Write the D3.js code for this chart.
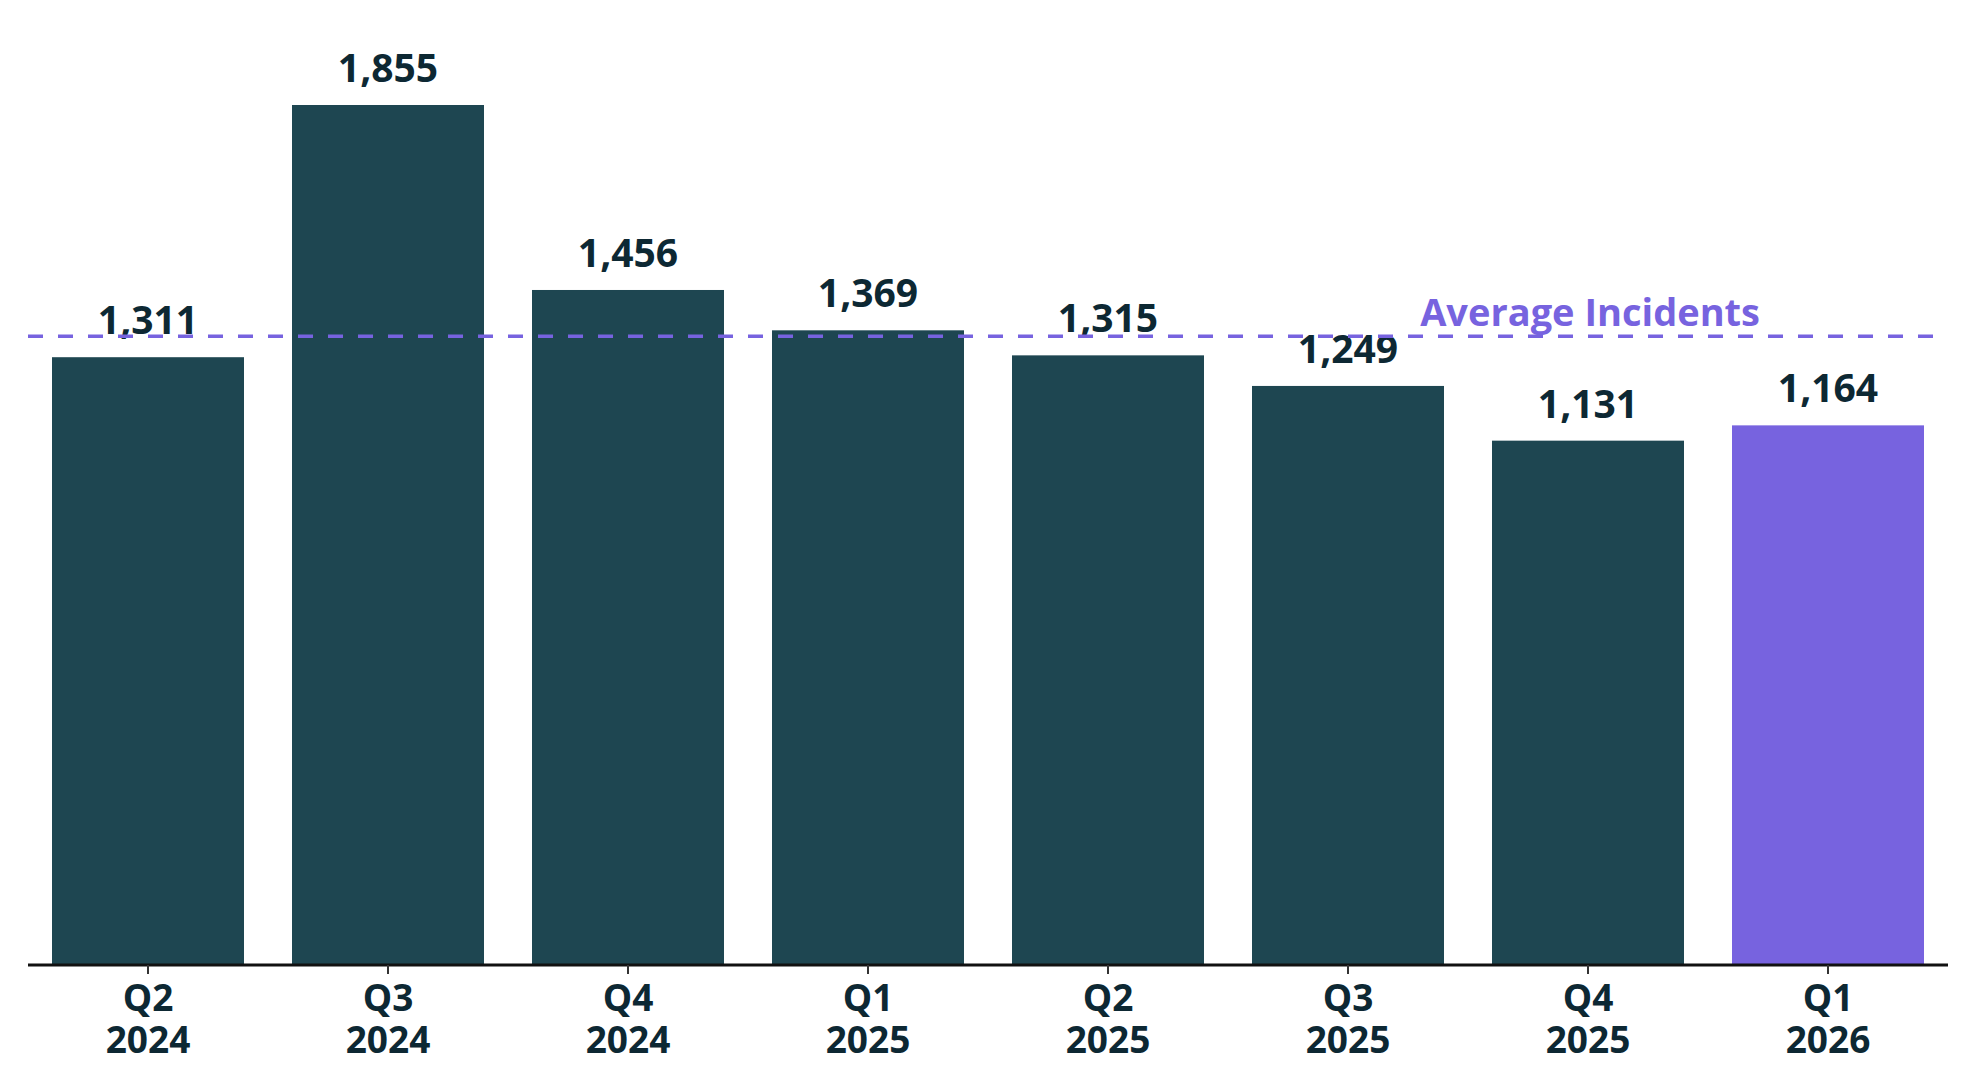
<!DOCTYPE html>
<html>
<head>
<meta charset="utf-8">
<script src="https://cdn.jsdelivr.net/npm/d3@7"></script>
<style>
  html, body { margin: 0; padding: 0; background: #ffffff; }
  svg { display: block; }
  text { font-family: "Open Sans", "Noto Sans", sans-serif; }
</style>
</head>
<body>
<svg id="chart" width="1968" height="1082"></svg>
<script>
const quarters = ["Q2", "Q3", "Q4", "Q1", "Q2", "Q3", "Q4", "Q1"];
const years = ["2024", "2024", "2024", "2025", "2025", "2025", "2025", "2026"];
const incidents = [1311, 1855, 1456, 1369, 1315, 1249, 1131, 1164];
const averageLabel = "Average Incidents";

const W = 1968, H = 1082;
const margin = { left: 28, right: 20, top: 105, bottom: 117 };
const baseY = H - margin.bottom;

const svg = d3.select("#chart");
const keys = quarters.map((q, i) => q + " " + years[i] + "|" + i);

const x = d3.scaleBand().domain(keys).range([margin.left, W - margin.right])
  .paddingInner(0.2).paddingOuter(0.1);
const y = d3.scaleLinear().domain([0, d3.max(incidents)]).range([baseY, margin.top]);

const avg = d3.mean(incidents);

svg.selectAll("rect.bar").data(incidents).join("rect")
  .attr("class", "bar")
  .attr("x", (d, i) => x(keys[i]))
  .attr("width", x.bandwidth())
  .attr("y", d => y(d))
  .attr("height", d => baseY - y(d))
  .attr("fill", (d, i) => i === incidents.length - 1 ? "#7763df" : "#1e4651");

// value labels
svg.selectAll("text.val").data(incidents).join("text")
  .attr("class", "val")
  .attr("x", (d, i) => x(keys[i]) + x.bandwidth() / 2)
  .attr("y", d => y(d) - 23)
  .attr("text-anchor", "middle")
  .attr("font-size", 39)
  .attr("font-weight", 700)
  .attr("fill", "#0d2833")
  .text(d => d3.format(",")(d));

// average line
svg.append("line")
  .attr("x1", margin.left).attr("x2", W - 25)
  .attr("y1", y(avg)).attr("y2", y(avg))
  .attr("stroke", "#7763df").attr("stroke-width", 3.5)
  .attr("stroke-dasharray", "15,15");

svg.append("text")
  .attr("x", 1760).attr("y", y(avg) - 10)
  .attr("text-anchor", "end")
  .attr("font-size", 38).attr("font-weight", 700)
  .attr("fill", "#7763df")
  .text(averageLabel);

// x axis
const axis = svg.append("g").attr("transform", `translate(0,${baseY})`)
  .call(d3.axisBottom(x).tickSize(9).tickSizeOuter(0).tickFormat(() => ""));
axis.select(".domain").attr("stroke", "#111").attr("stroke-width", 3)
  .attr("d", `M${margin.left},0H${W - margin.right}`);
axis.selectAll(".tick line").attr("stroke", "#333").attr("stroke-width", 2);

const tickText = axis.selectAll(".tick").append("text")
  .attr("text-anchor", "middle")
  .attr("font-size", 37).attr("font-weight", 700)
  .attr("fill", "#0d2833");
tickText.append("tspan").attr("x", 0).attr("y", 46).text((d, i) => quarters[i]);
tickText.append("tspan").attr("x", 0).attr("y", 88).text((d, i) => years[i]);
</script>
</body>
</html>
